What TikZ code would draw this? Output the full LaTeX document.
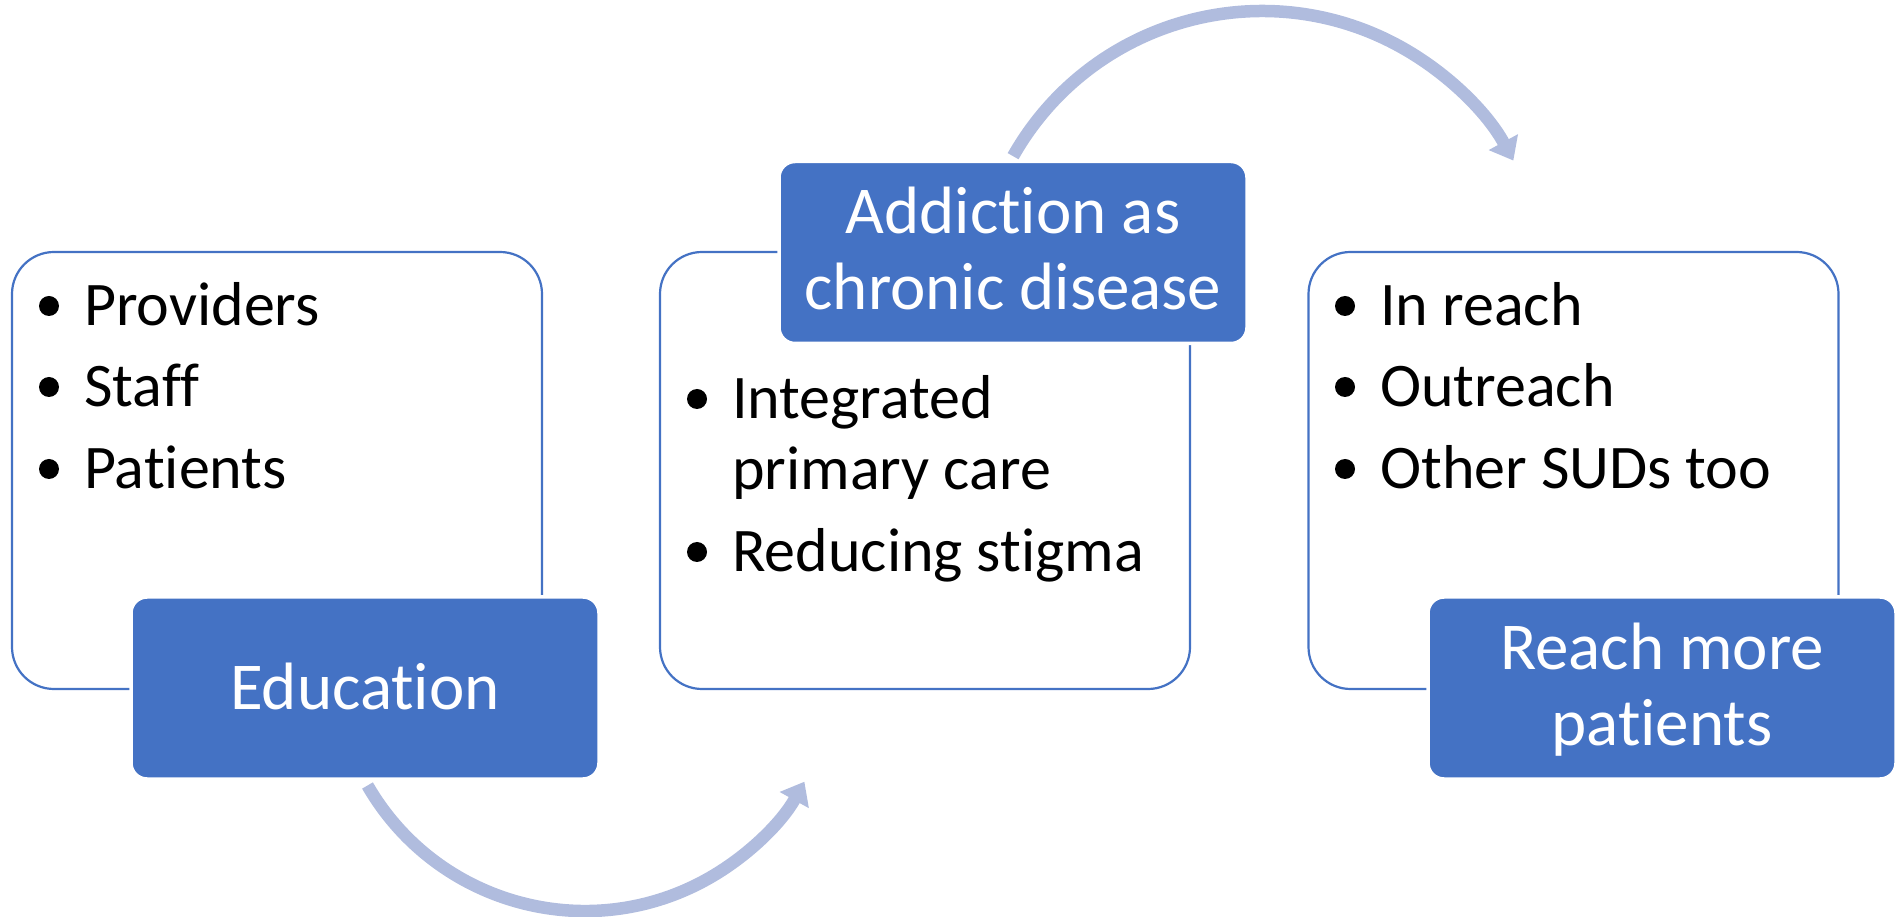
\documentclass[tikz,border=0pt]{standalone}
\usepackage{fontspec}
\setmainfont{Carlito}[Ligatures={NoCommon}]
\usetikzlibrary{arrows.meta}
\definecolor{acc}{HTML}{4472C4}
\definecolor{arr}{RGB}{176,188,222}
\begin{document}
\begin{tikzpicture}[x=1pt,y=1pt,
 panel/.style={draw=acc, line width=2.2pt, fill=white, rounded corners=42pt, minimum width=530pt, minimum height=437pt, inner sep=0pt},
 head/.style={draw=white, line width=3.5pt, fill=acc, rounded corners=16pt, minimum width=468pt, minimum height=182pt, inner sep=0pt},
 btxt/.style={font=\fontsize{62}{71}\selectfont, anchor=base west, inner sep=0pt},
 htxt/.style={font=\fontsize{67}{76}\selectfont, text=white, anchor=base, inner sep=0pt},
 dot/.style={circle, fill=black, minimum size=20pt, inner sep=0pt},
 flow/.style={draw=arr, line width=12.5pt, -{Triangle[length=21pt,width=32pt]}}
]
\useasboundingbox (0,0) rectangle (1900,916);
% panels
\node[panel] (p1) at (277,445.5) {};
\node[panel] (p2) at (925,445.5) {};
\node[panel] (p3) at (1573.5,445.5) {};
% arrows
\coordinate (b1) at (367.5,130.5);
\draw[flow] (b1) arc[start angle=210, end angle=331, radius=251];
\coordinate (t1) at (1013.1,759.8);
\draw[flow] (t1) arc[start angle=150.5, end angle=28.5, radius=286];
% header boxes
\node[head] (h1) at (365,228) {};
\node[head] (h2) at (1013,663.5) {};
\node[head] (h3) at (1662,228) {};
% header texts
\node[htxt] (ht1) at (365,207) {Education};
\node[htxt] (ht2) at (1013,682) {\parbox[t]{470pt}{\centering Addiction as\\chronic disease}};
\node[htxt] (ht3) at (1662,246) {\parbox[t]{470pt}{\centering Reach more\\patients}};
% left bullets
\node[dot] (d11) at (49,610) {};
\node[btxt] (l11) at (84,590) {Providers};
\node[dot] (d12) at (49,529) {};
\node[btxt] (l12) at (84,509) {Staff};
\node[dot] (d13) at (49,447) {};
\node[btxt] (l13) at (84,427) {Patients};
% middle bullets
\node[dot] (d21) at (697,517) {};
\node[btxt] (l21) at (732,497) {\parbox[t]{420pt}{\raggedright Integrated\\primary care}};
\node[dot] (d22) at (697,364) {};
\node[btxt] (l22) at (732,344) {Reducing stigma};
% right bullets
\node[dot] (d31) at (1345,610) {};
\node[btxt] (l31) at (1380,590) {In reach};
\node[dot] (d32) at (1345,529) {};
\node[btxt] (l32) at (1380,509) {Outreach};
\node[dot] (d33) at (1345,447) {};
\node[btxt] (l33) at (1380,427) {Other SUDs too};
\end{tikzpicture}
\end{document}
